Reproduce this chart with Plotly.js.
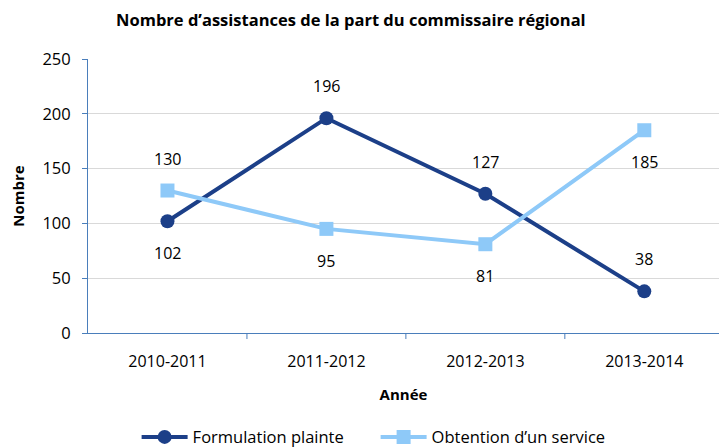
<!DOCTYPE html>
<html><head><meta charset="utf-8">
<script src="https://cdn.plot.ly/plotly-3.0.1.min.js"></script>
<style>html,body{margin:0;padding:0;background:#fff}</style>
</head><body>
<div id="chart" style="width:719px;height:447px"></div>
<script>
const categories = ['2010-2011', '2011-2012', '2012-2013', '2013-2014'];
const formulation = [102, 196, 127, 38];
const obtention = [130, 95, 81, 185];
const formulationLabelPos = ['below', 'above', 'above', 'above'];
const obtentionLabelPos = ['above', 'below', 'below', 'below'];

const darkBlue = '#1c3f88';
const lightBlue = '#8ec9f8';
const font = 'Open Sans, Noto Sans, sans-serif';

const traces = [
  {x: categories, y: formulation, name: 'Formulation plainte', type: 'scatter', mode: 'lines+markers',
   line: {color: darkBlue, width: 4}, marker: {symbol: 'circle', size: 14, color: darkBlue}},
  {x: categories, y: obtention, name: 'Obtention d\u2019un service', type: 'scatter', mode: 'lines+markers',
   line: {color: lightBlue, width: 4}, marker: {symbol: 'square', size: 14, color: lightBlue}}
];

const annotations = [];
function addLabels(vals, pos) {
  vals.forEach((v, i) => annotations.push({
    x: categories[i], y: v, text: String(v), showarrow: false,
    yshift: pos[i] === 'above' ? 32 : -32,
    font: {family: font, size: 16, color: '#000'}
  }));
}
addLabels(formulation, formulationLabelPos);
addLabels(obtention, obtentionLabelPos);

const layout = {
  width: 719, height: 447,
  margin: {l: 88, r: 0, t: 59, b: 114, autoexpand: false},
  paper_bgcolor: '#fff', plot_bgcolor: '#fff',
  title: {text: '<b>Nombre d\u2019assistances de la part du commissaire régional</b>',
          font: {family: font, size: 16.5, color: '#000'}, x: 0.488, xanchor: 'center', y: 0.955, yanchor: 'middle'},
  xaxis: {type: 'category', range: [-0.5, 3.47], showline: true, linecolor: '#4a7ebb', linewidth: 1,
          showgrid: false, zeroline: false, ticks: 'outside', ticklen: 0, ticklabelstandoff: 14,
          automargin: false,
          tickfont: {family: font, size: 16, color: '#000'},
          title: {text: '<b>Année</b>', font: {family: font, size: 15, color: '#000'}, standoff: 18}},
  yaxis: {range: [0, 250], dtick: 50, showline: true, linecolor: '#4a7ebb', linewidth: 1,
          ticks: 'outside', ticklen: 5, tickcolor: '#4a7ebb', ticklabelstandoff: 8,
          automargin: false,
          showgrid: true, gridcolor: '#d9d9d9', zeroline: false,
          tickfont: {family: font, size: 16.5, color: '#000'},
          title: {text: '<b>Nombre</b>', font: {family: font, size: 15, color: '#000'}, standoff: 14}},
  legend: {orientation: 'h', xref: 'container', yref: 'container', x: 0.19, xanchor: 'left',
           y: 0.022, yanchor: 'middle', entrywidth: 178, entrywidthmode: 'pixels',
           font: {family: font, size: 16.5, color: '#000'}, itemwidth: 46, tracegroupgap: 0},
  annotations: annotations,
  shapes: [1, 2, 3].map(k => ({type: 'line', xref: 'x', yref: 'paper', x0: k - 0.5, x1: k - 0.5,
           y0: 0, y1: -0.022, line: {color: '#4a7ebb', width: 1}})),
  showlegend: true
};
Plotly.newPlot('chart', traces, layout, {displayModeBar: false});
</script>
</body></html>
